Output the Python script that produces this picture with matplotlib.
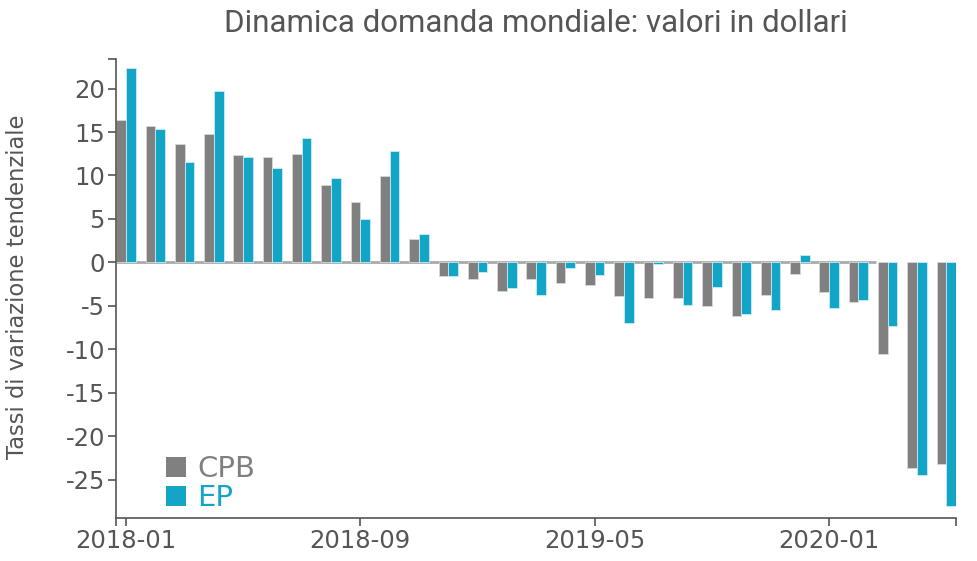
import numpy as np
import matplotlib
matplotlib.use("Agg")
import matplotlib.pyplot as plt

plt.rcParams["axes.unicode_minus"] = False

# monthly data, 2018-01 .. 2020-05
months = ["2018-01", "2018-02", "2018-03", "2018-04", "2018-05", "2018-06",
          "2018-07", "2018-08", "2018-09", "2018-10", "2018-11", "2018-12",
          "2019-01", "2019-02", "2019-03", "2019-04", "2019-05", "2019-06",
          "2019-07", "2019-08", "2019-09", "2019-10", "2019-11", "2019-12",
          "2020-01", "2020-02", "2020-03", "2020-04", "2020-05"]
cpb = [16.4, 15.7, 13.6, 14.8, 12.3, 12.1, 12.5, 8.9, 6.9, 9.9,
       2.7, -1.6, -1.9, -3.3, -1.9, -2.4, -2.6, -3.9, -4.1, -4.1,
       -5.0, -6.2, -3.8, -1.35, -3.4, -4.6, -10.5, -23.7, -23.2]
ep = [22.4, 15.3, 11.5, 19.7, 12.1, 10.9, 14.3, 9.7, 5.0, 12.8,
      3.3, -1.6, -1.15, -2.9, -3.7, -0.6, -1.5, -7.0, -0.2, -4.9,
      -2.8, -5.9, -5.5, 0.9, -5.3, -4.35, -7.3, -24.4, -28.0]
tick_labels = ["2018-01", "2018-09", "2019-05", "2020-01"]

GRAY = "#808080"
BLUE = "#12a5c6"
TEXT = "#555555"
AXIS = "#555555"

fig = plt.figure(figsize=(9.78, 5.61), dpi=100)
ax = fig.add_axes([116 / 978, 1 - 518 / 561, (956 - 116) / 978, (518 - 59) / 561])

x = np.arange(len(months))
w = 0.33
ax.bar(x - w / 2, cpb, w, color=GRAY, edgecolor="#d8d8d8", linewidth=0.6, zorder=2, label="CPB")
ax.bar(x + w / 2, ep, w, color=BLUE, edgecolor="#c8ecf4", linewidth=0.6, zorder=2, label="EP")

xmin, xmax = -0.34, 28.33
ymin, ymax = -29.4, 23.4
ax.hlines(0, xmin, 25.6, color="#aaaaaa", linewidth=2, zorder=1)
ax.set_xlim(xmin, xmax)
ax.set_ylim(ymin, ymax)

ax.set_yticks(np.arange(-25, 21, 5))
ax.set_yticks([ymax], minor=True)
ax.set_xticks([months.index(m) for m in tick_labels])
ax.set_xticklabels(tick_labels)
ax.set_xticks([xmin, xmax], minor=True)

for side in ["top", "right"]:
    ax.spines[side].set_visible(False)
for side in ["left", "bottom"]:
    ax.spines[side].set_color(AXIS)
    ax.spines[side].set_linewidth(1.2)
ax.tick_params(which="both", length=6, width=1.2, color=AXIS, labelsize=17.5, labelcolor=TEXT, pad=2)

fig.text(536 / 978, 1 - 23 / 561, "Dinamica domanda mondiale: valori in dollari",
         ha="center", va="center", fontsize=22.5, color=TEXT, family="Roboto")
fig.text(18 / 978, 1 - 287 / 561, "Tassi di variazione tendenziale", rotation=90,
         ha="center", va="center", fontsize=16.3, color=TEXT)

leg = ax.legend(loc="upper left", bbox_to_anchor=(166 / 978, 1 - 455 / 561),
                bbox_transform=fig.transFigure, frameon=False, fontsize=21,
                handlelength=0.68, handleheight=0.68, handletextpad=0.38,
                labelspacing=0.05, borderpad=0, borderaxespad=0)
for txt, col in zip(leg.get_texts(), [GRAY, BLUE]):
    txt.set_color(col)
for h in leg.legend_handles:
    h.set_edgecolor("none")

fig.savefig("out.png", dpi=100)
